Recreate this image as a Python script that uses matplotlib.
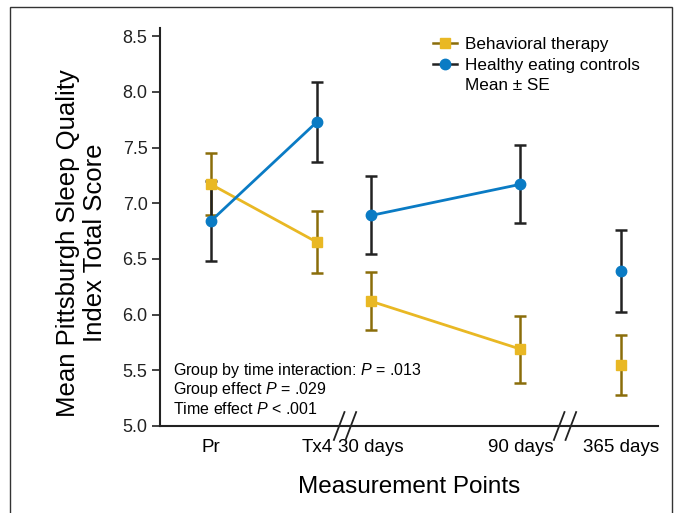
import numpy as np
import matplotlib.pyplot as plt
from matplotlib.lines import Line2D
from matplotlib.patches import Rectangle

plt.rcParams['font.family'] = ['Liberation Sans', 'DejaVu Sans']
plt.rcParams['mathtext.fontset'] = 'custom'
plt.rcParams['mathtext.it'] = 'Liberation Sans:italic'
plt.rcParams['mathtext.rm'] = 'Liberation Sans'

# measurement points (x positions keep the uneven spacing of the original)
labels = ['Pr', 'Tx4', '30 days', '90 days', '365 days']
xpos = [0, 1, 1.51, 2.92, 3.87]

# behavioral therapy
bt_mean = [7.17, 6.65, 6.12, 5.69, 5.55]
bt_se = [0.28, 0.28, 0.26, 0.30, 0.27]
# healthy eating controls
hec_mean = [6.84, 7.73, 6.89, 7.17, 6.39]
hec_se = [0.36, 0.36, 0.35, 0.35, 0.37]

# which points are joined by a line
segments = [(0, 2), (2, 4), (4, 5)]

yellow = '#e9b824'
olive = '#8a6d0a'
blue = '#0a7bc4'
dark = '#222222'

fig = plt.figure(figsize=(6.77, 5.13), dpi=100)
ax = fig.add_axes([160/677, 87/513, 498/677, 398/513])

fig.patches.append(Rectangle((10/677, -0.1), 662/677, 1.1 - 7/513,
                             transform=fig.transFigure, fill=False,
                             edgecolor='#333333', lw=1.0))

for a, b in segments:
    ax.plot(xpos[a:b], bt_mean[a:b], '-', color=yellow, lw=2, zorder=2)
    ax.plot(xpos[a:b], hec_mean[a:b], '-', color=blue, lw=2, zorder=2)

ax.errorbar(xpos, bt_mean, yerr=bt_se, fmt='none', ecolor=olive,
            elinewidth=1.8, capsize=4, capthick=1.8, zorder=1)
ax.errorbar(xpos, hec_mean, yerr=hec_se, fmt='none', ecolor=dark,
            elinewidth=1.8, capsize=4, capthick=1.8, zorder=1)
ax.plot(xpos, bt_mean, 's', color=yellow, ms=7.5, zorder=3)
ax.plot(xpos, hec_mean, 'o', color=blue, ms=7.5, zorder=3)

ax.set_xlim(-0.48, 4.217)
ax.set_ylim(5.0, 8.573)
ax.set_yticks(np.arange(5.0, 8.51, 0.5))
ax.set_yticklabels(['%.1f' % v for v in np.arange(5.0, 8.51, 0.5)], fontsize=13)
ax.set_xticks(xpos)
ax.set_xticklabels(labels, fontsize=13.5)
ax.tick_params(axis='x', length=0, pad=9)
ax.tick_params(axis='y', length=6, width=1.2, direction='out', pad=3, colors='#222222')
for s in ['top', 'right']:
    ax.spines[s].set_visible(False)
for s in ['left', 'bottom']:
    ax.spines[s].set_linewidth(1.5)
    ax.spines[s].set_color('#222222')

ax.set_ylabel('Mean Pittsburgh Sleep Quality\nIndex Total Score', fontsize=18.5,
              linespacing=1.15)
ax.yaxis.set_label_coords(-0.106, 0.46)
ax.set_xlabel('Measurement Points', fontsize=17.5, labelpad=15)

# axis break marks
for xb in [1.265, 3.34]:
    for dx in [-0.055, 0.055]:
        ax.plot([xb + dx - 0.05, xb + dx + 0.05], [-0.035, 0.035], color=dark, lw=1.3,
                transform=ax.get_xaxis_transform(), clip_on=False)

# annotation
notes = ['Group by time interaction: $\\mathit{P}$ = .013',
         'Group effect $\\mathit{P}$ = .029',
         'Time effect $\\mathit{P}$ < .001']
for i, t in enumerate(notes):
    ax.text(0.026, 0.14 - i * 0.049, t, transform=ax.transAxes, fontsize=11.5, va='center')

handles = [
    Line2D([], [], color=olive, lw=1.8, marker='s', mfc=yellow, mec=yellow, ms=7.5),
    Line2D([], [], color=dark, lw=1.8, marker='o', mfc=blue, mec=blue, ms=7.5),
    Line2D([], [], color='none'),
]
ax.legend(handles, ['Behavioral therapy', 'Healthy eating controls', 'Mean ± SE'],
          loc='upper right', bbox_to_anchor=(0.994, 1.015), frameon=False, fontsize=12.3,
          handlelength=1.4, handletextpad=0.45, labelspacing=0.3)

fig.savefig('out.png', dpi=100)
